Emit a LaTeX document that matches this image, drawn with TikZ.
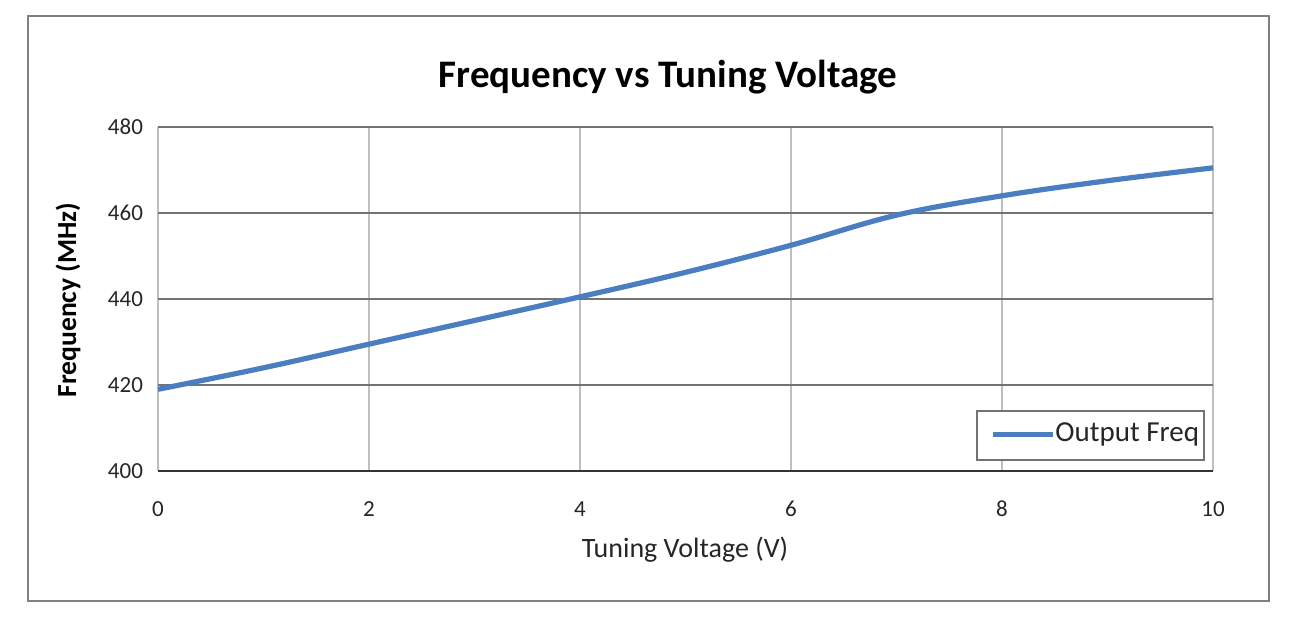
\documentclass[tikz,border=0pt]{standalone}
\usepackage{fontspec}
\setmainfont{Carlito}
\begin{document}
\begin{tikzpicture}[x=0.5pt,y=-0.5pt,
  tick/.style={font=\fontsize{11.5}{13}\selectfont,text=black!85},
  grid/.style={draw=black!25,line width=0.9pt},
  hgrid/.style={draw=black!55,line width=0.9pt}]
\useasboundingbox (0,0) rectangle (1304,620);
\node[draw=black!50,line width=1pt,minimum width=620.5pt,minimum height=292.5pt,anchor=north west,inner sep=0] (frame) at (27,15) {};
\node[font=\bfseries\fontsize{19.5}{22}\selectfont] (title) at (668,77) {Frequency vs Tuning Voltage};
% grid
\foreach \i in {0,2,4,6,8,10}{
  \draw[grid] ({158+105.5*\i},127) -- ({158+105.5*\i},471);
  \node[tick] (xl\i) at ({158+105.5*\i},509) {\i};}
\foreach \v in {420,440,460,480}{
  \draw[hgrid] (158,{471-(\v-400)*4.3}) -- (1213,{471-(\v-400)*4.3});}
\draw[black!80,line width=1pt] (158,471) -- (1213,471);
\foreach \v in {400,420,440,460,480}{
  \node[tick,anchor=east] (yl\v) at (150,{471-(\v-400)*4.3}) {\v};}
\node[font=\fontsize{14}{16}\selectfont,text=black!85] (xt) at (685,550) {Tuning Voltage (V)};
\node[rotate=90,font=\bfseries\fontsize{13.8}{16}\selectfont] (yt) at (68,300) {Frequency (MHz)};
\draw[color={rgb,255:red,74;green,126;blue,193},line width=2.6pt] plot[smooth,tension=0.6] coordinates {
 (158,{471-19*4.3}) (263.5,{471-24*4.3}) (369,{471-29.5*4.3}) (474.5,{471-35*4.3}) (580,{471-40.5*4.3})
 (685.5,{471-46.2*4.3}) (791,{471-52.5*4.3}) (896.5,{471-59.5*4.3}) (1002,{471-64*4.3}) (1107.5,{471-67.5*4.3}) (1213,{471-70.5*4.3})};
\node[draw=black!55,line width=0.9pt,fill=white,minimum width=113.5pt,minimum height=24.5pt,anchor=north west,inner sep=0] (leg) at (976,410) {};
\draw[color={rgb,255:red,74;green,126;blue,193},line width=2.6pt] (993,434.5) coordinate (la) -- (1053,434.5) coordinate (lb);
\node[anchor=west,inner sep=1pt,font=\fontsize{14.5}{16}\selectfont,text=black!85] (legt) at (1053,434.5) {Output Freq};
\end{tikzpicture}
\end{document}
